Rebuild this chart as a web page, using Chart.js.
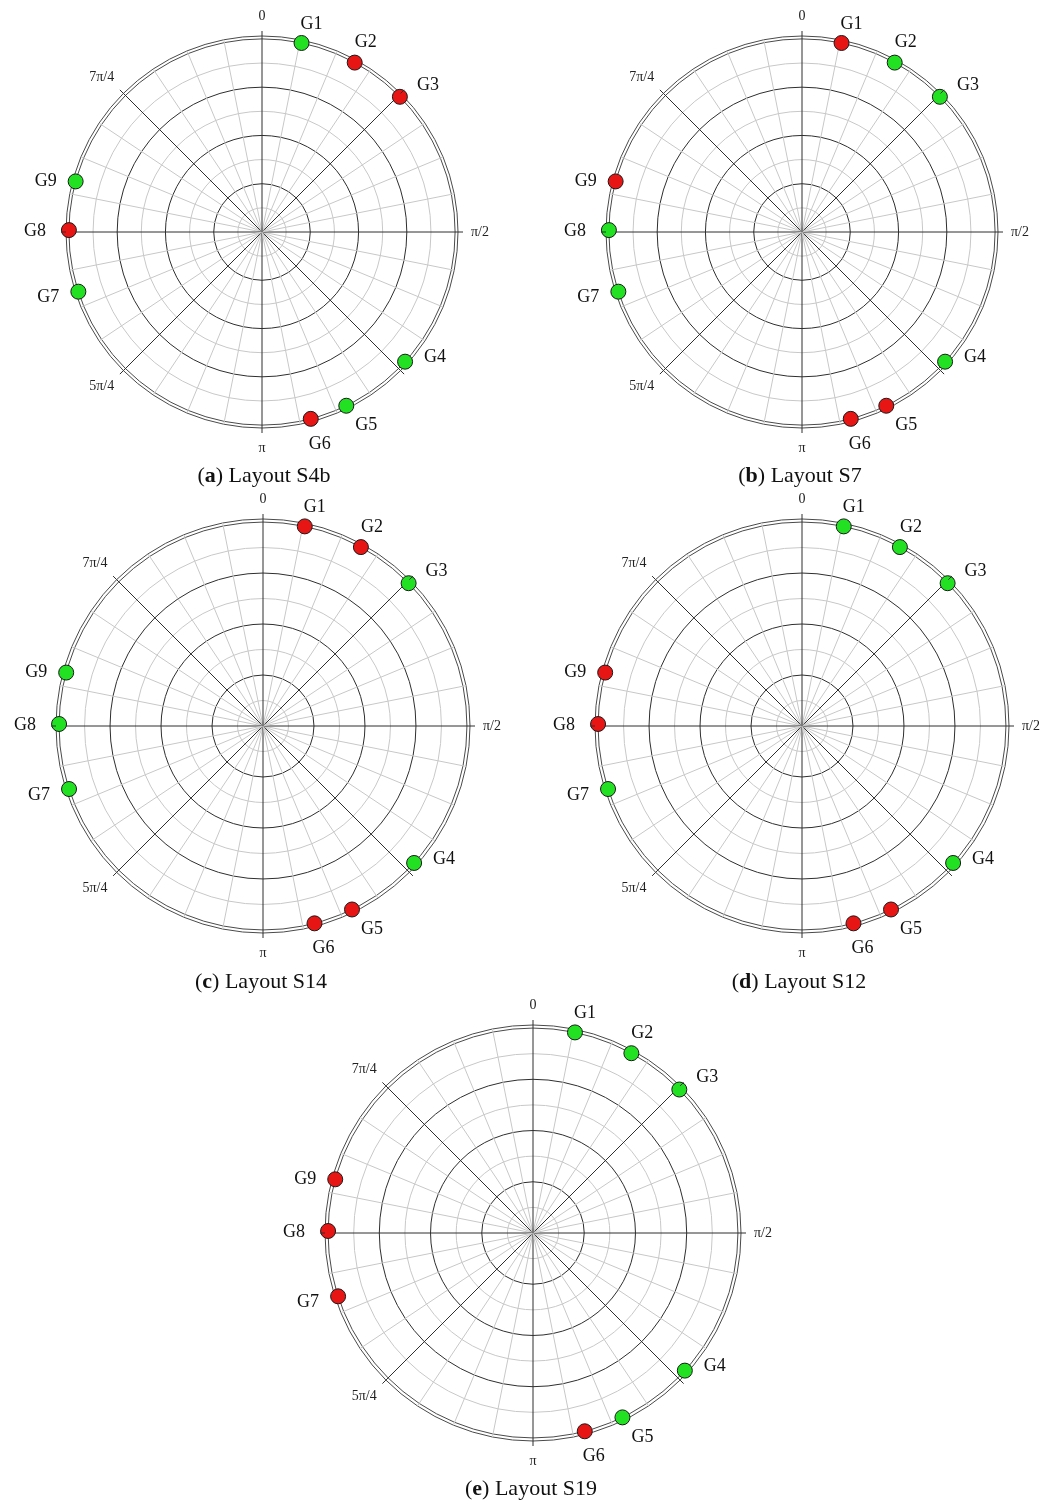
<!DOCTYPE html>
<html>
<head>
<meta charset="utf-8">
<script src="https://cdn.jsdelivr.net/npm/chart.js@4.4.1/dist/chart.umd.min.js"></script>
<style>
  body { margin: 0; background: #fff; width: 1056px; height: 1504px; position: relative; overflow: hidden; }
  canvas { position: absolute; }
  .caption {
    position: absolute; transform: translateX(-50%); white-space: nowrap;
    font-family: 'Liberation Serif', serif; font-size: 22px; line-height: 26px; color: #111;
  }
</style>
</head>
<body>
<canvas id="plotA"></canvas>
<canvas id="plotB"></canvas>
<canvas id="plotC"></canvas>
<canvas id="plotD"></canvas>
<canvas id="plotE"></canvas>
<div class="caption" style="left:264px; top:462px">(<b>a</b>) Layout S4b</div>
<div class="caption" style="left:800px; top:462px">(<b>b</b>) Layout S7</div>
<div class="caption" style="left:261px; top:968px">(<b>c</b>) Layout S14</div>
<div class="caption" style="left:799px; top:968px">(<b>d</b>) Layout S12</div>
<div class="caption" style="left:531px; top:1475px">(<b>e</b>) Layout S19</div>
<script>
// generator names and where they sit on the ring (degrees, clockwise from top)
const generators = ['G1', 'G2', 'G3', 'G4', 'G5', 'G6', 'G7', 'G8', 'G9'];
const generatorAngles = [11.8, 28.6, 45.5, 132.2, 154, 165.5, 252, 270.7, 285];
const ringValue = 1.0;

// 1 = green, 0 = red
const layoutS4b = [1, 0, 0, 1, 1, 0, 1, 0, 1];
const layoutS7  = [0, 1, 1, 1, 0, 0, 1, 1, 0];
const layoutS14 = [0, 0, 1, 1, 0, 0, 1, 1, 1];
const layoutS12 = [1, 1, 1, 1, 0, 0, 1, 0, 0];
const layoutS19 = [1, 1, 1, 1, 1, 0, 0, 0, 0];

// angular tick labels
const tickAngles = [0, 90, 180, 225, 315];
const tickLabels = ['0', 'π/2', 'π', '5π/4', '7π/4'];

// radial grid: dark every quarter, light every eighth, double outer rim
const ringValues = [0, 0.125, 0.25, 0.375, 0.5, 0.625, 0.75, 0.875, 1.0, 1.015];

const STEPS = 640;              // angular resolution of the radar categories
const DEG = 360 / STEPS;
const GREEN = '#22e022';
const RED = '#e81515';
const DARK = '#2e2e2e';
const LIGHT = '#c8c8c8';
const RIM = '#4a4a4a';

const idx = deg => Math.round(deg / DEG) % STEPS;

// text offsets of the generator names from their markers
const nameOffset = {
  G1: [10, -19], G2: [11, -20], G3: [28, -12], G4: [30, -4], G5: [20, 20],
  G6: [9, 25], G7: [-30, 6], G8: [-34, 1], G9: [-30, 0]
};

function series(status, wanted) {
  const data = new Array(STEPS).fill(null);
  generatorAngles.forEach((deg, k) => {
    if (status[k] === wanted) data[idx(deg)] = ringValue;
  });
  return data;
}

const ringText = {
  id: 'ringText',
  afterDraw(chart) {
    const r = chart.scales.r;
    const ctx = chart.ctx;
    ctx.save();

    // short ticks where the dark spokes cross the rim
    ctx.strokeStyle = DARK;
    ctx.lineWidth = 1;
    for (let deg = 0; deg < 360; deg += 45) {
      const a = r.getPointPosition(idx(deg), r.drawingArea);
      const b = r.getPointPosition(idx(deg), r.drawingArea + 5);
      ctx.beginPath();
      ctx.moveTo(a.x, a.y);
      ctx.lineTo(b.x, b.y);
      ctx.stroke();
    }

    ctx.fillStyle = '#222';
    ctx.font = '14px "Liberation Serif"';
    tickAngles.forEach((deg, k) => {
      const p = r.getPointPosition(idx(deg), r.drawingArea + 13);
      ctx.textAlign = (deg === 0 || deg === 180) ? 'center' : (deg < 180 ? 'left' : 'right');
      ctx.textBaseline = (deg === 90 || deg === 270) ? 'middle' : (deg > 90 && deg < 270 ? 'top' : 'bottom');
      ctx.fillText(tickLabels[k], p.x, p.y);
    });

    ctx.fillStyle = '#111';
    ctx.font = '18px "Liberation Serif"';
    ctx.textAlign = 'center';
    ctx.textBaseline = 'middle';
    generators.forEach((name, k) => {
      const p = r.getPointPositionForValue(idx(generatorAngles[k]), ringValue);
      const [dx, dy] = nameOffset[name];
      ctx.fillText(name, p.x + dx, p.y + dy);
    });
    ctx.restore();
  }
};

function drawLayout(id, status, geo) {
  const pad = 60;
  const size = Math.round(2 * (geo.r + pad));
  const canvas = document.getElementById(id);
  canvas.width = size;
  canvas.height = size;
  canvas.style.left = Math.round(geo.cx - size / 2) + 'px';
  canvas.style.top = Math.round(geo.cy - size / 2) + 'px';

  const marker = {
    pointRadius: 7.5,
    pointHoverRadius: 7.5,
    pointBorderColor: '#1a1a1a',
    pointBorderWidth: 1,
    showLine: false,
    fill: false
  };

  new Chart(canvas, {
    type: 'radar',
    data: {
      labels: Array.from({ length: STEPS }, (_, i) => i * DEG),
      datasets: [
        Object.assign({ data: series(status, 1), pointBackgroundColor: GREEN }, marker),
        Object.assign({ data: series(status, 0), pointBackgroundColor: RED }, marker)
      ]
    },
    options: {
      responsive: false,
      animation: false,
      devicePixelRatio: 1,
      layout: { padding: pad },
      plugins: { legend: { display: false }, tooltip: { enabled: false } },
      scales: {
        r: {
          min: 0,
          max: 1.015,
          // grid drawn over the markers
          ticks: { display: false, z: 1 },
          afterBuildTicks: s => { s.ticks = ringValues.map(v => ({ value: v })); },
          grid: {
            circular: true,
            lineWidth: 1,
            color: c => {
              const v = c.tick.value;
              if (v >= 1) return RIM;
              return Math.abs(v * 4 - Math.round(v * 4)) < 1e-9 ? DARK : LIGHT;
            }
          },
          angleLines: {
            color: c => (c.index % 80 === 0 ? DARK : LIGHT),
            lineWidth: c => (c.index % 20 === 0 ? 1 : 0)
          },
          pointLabels: { display: false }
        }
      }
    },
    plugins: [ringText]
  });
}

drawLayout('plotA', layoutS4b, { cx: 262.5, cy: 232.5, r: 196.5 });
drawLayout('plotB', layoutS7, { cx: 802.5, cy: 232.5, r: 196.5 });
drawLayout('plotC', layoutS14, { cx: 263.5, cy: 726.5, r: 207.5 });
drawLayout('plotD', layoutS12, { cx: 802.5, cy: 726.5, r: 207.5 });
drawLayout('plotE', layoutS19, { cx: 533.5, cy: 1233.5, r: 208.5 });
</script>
</body>
</html>
